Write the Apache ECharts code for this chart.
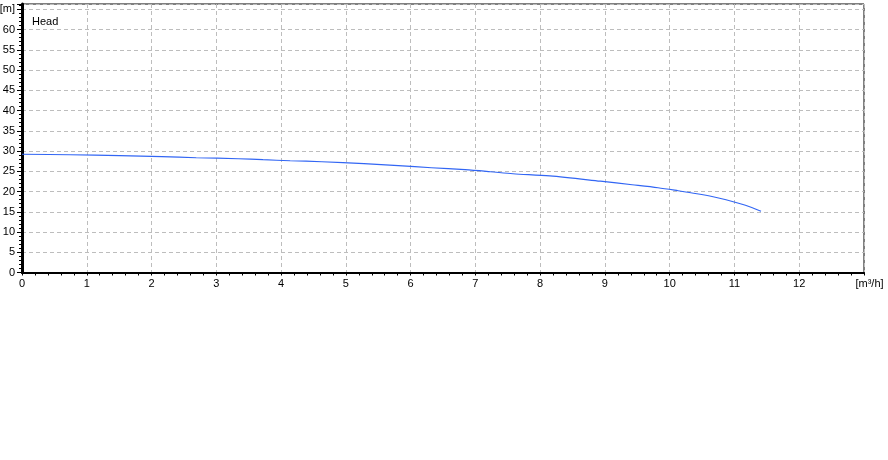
<!DOCTYPE html>
<html>
<head>
<meta charset="utf-8">
<script src="https://cdn.jsdelivr.net/npm/echarts@6/dist/echarts.min.js"></script>
<style>html,body{margin:0;padding:0;background:#fff;}#c{width:888px;height:460px;}</style>
</head>
<body>
<div id="c"></div>
<script>
var flowX = [0, 0.74, 1.51, 2.16, 2.69, 3.34, 3.72, 4.14, 4.63, 5.28, 5.81, 6.32, 6.84, 7.23, 7.58, 8.15, 8.93, 9.42, 9.82, 10.13, 10.42, 10.67, 10.87, 11.17, 11.41];
var headY = [29.2, 29.08, 28.84, 28.59, 28.34, 28.09, 27.85, 27.6, 27.35, 26.86, 26.37, 25.87, 25.38, 24.88, 24.39, 23.84, 22.54, 21.67, 20.93, 20.19, 19.45, 18.71, 17.96, 16.6, 15.12];
var seriesName = 'Head';
var yUnit = '[m]';
var xUnit = '[m³/h]';

var chart = echarts.init(document.getElementById('c'), null, {renderer: 'canvas'});
var font = 'Liberation Sans, Arial, sans-serif';
var grid = {color: '#bdbdbd', width: 1, type: [4, 3]};
chart.setOption({
  animation: false,
  backgroundColor: '#ffffff',
  title: {text: seriesName, left: 27, top: 11, textStyle: {fontSize: 11, fontWeight: 'normal', color: '#000', fontFamily: font}},
  grid: {left: 22, right: 24, top: 4, bottom: 187.5, show: true, borderColor: '#000', borderWidth: 1, containLabel: false, outerBoundsMode: 'none'},
  xAxis: {
    type: 'value', min: 0, max: 13, interval: 1,
    axisLine: {show: true, onZero: false, lineStyle: {color: '#000', width: 2}},
    axisTick: {show: true, inside: false, length: 3, lineStyle: {color: '#000'}},
    minorTick: {show: true, splitNumber: 5, length: 3, lineStyle: {color: '#000'}},
    splitLine: {show: true, lineStyle: grid},
    axisLabel: {
      color: '#000', fontSize: 11, fontFamily: font, margin: 6,
      formatter: function (v) { return v === 13 ? '{u|' + xUnit + '}' : String(v); },
      rich: {u: {fontSize: 11, fontFamily: font, color: '#000', padding: [0, 0, 0, 11]}}
    }
  },
  yAxis: [{
    type: 'value', min: 0, max: 66.3, interval: 5,
    axisLine: {show: true, onZero: false, lineStyle: {color: '#000', width: 1}},
    axisTick: {show: true, inside: false, length: 5, lineStyle: {color: '#000'}},
    minorTick: {show: true, splitNumber: 5, length: 3, lineStyle: {color: '#000'}},
    splitLine: {show: true, lineStyle: grid},
    axisLabel: {
      color: '#000', fontSize: 11, fontFamily: font, margin: 7, showMaxLabel: false,
      formatter: function (v) { if (v === 65) return yUnit; return (v % 5 === 0) ? String(v) : ''; }
    }
  }, {
    type: 'value', min: 0, max: 66.3, position: 'right',
    axisLine: {show: true, lineStyle: {color: '#000', width: 3}},
    axisTick: {show: false}, axisLabel: {show: false}, splitLine: {show: false}
  }],
  series: [{
    name: seriesName, type: 'line', smooth: 0.3, showSymbol: false,
    lineStyle: {color: '#3266f4', width: 1.2},
    data: flowX.map(function (x, i) { return [x, headY[i]]; })
  }]
});
</script>
</body>
</html>
